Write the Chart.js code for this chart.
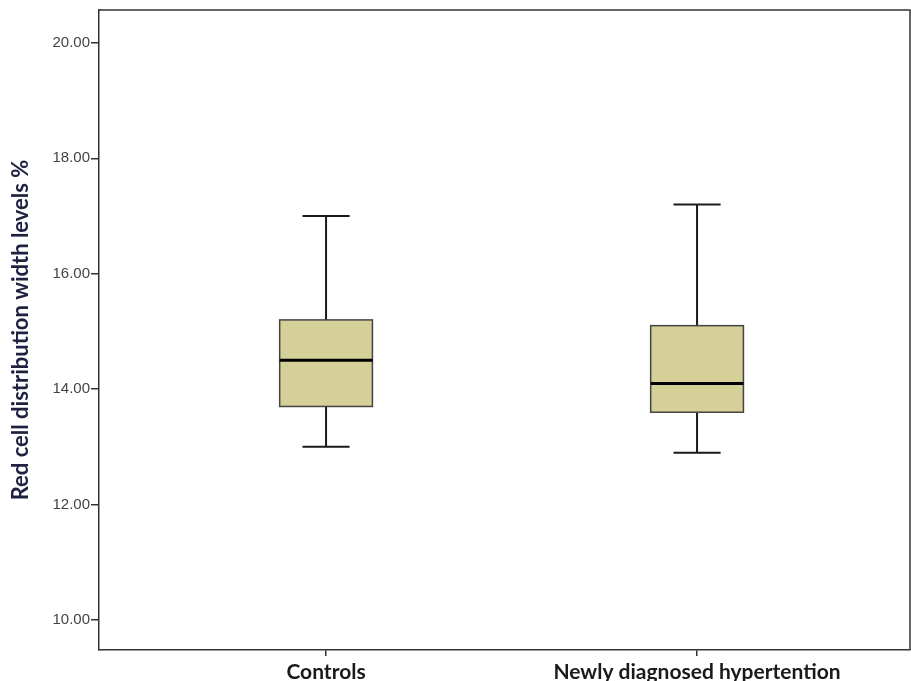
<!DOCTYPE html>
<html>
<head>
<meta charset="utf-8">
<script src="https://cdn.jsdelivr.net/npm/chart.js@4.4.1/dist/chart.umd.min.js"></script>
<style>
  html, body { margin: 0; padding: 0; background: #fff; }
  #wrap { width: 911px; height: 681px; }
</style>
</head>
<body>
<div id="wrap"><canvas id="box-chart"></canvas></div>
<script>
// Categorias e estatísticas dos boxplots
const categories = ['Controls', 'Newly diagnosed hypertention'];
const positions = [1, 2];
const whiskerLow = [13.0, 12.9];
const q1 = [13.7, 13.6];
const median = [14.5, 14.1];
const q3 = [15.2, 15.1];
const whiskerHigh = [17.0, 17.2];
const yTicks = [10, 12, 14, 16, 18, 20];

const boxWidth = 0.25;
const capWidth = 0.127;

// Plugin para desenhar as caixas usando as escalas do Chart.js
const boxPlotPlugin = {
  id: 'boxPlot',
  afterDatasetsDraw(chart) {
    const ctx = chart.ctx;
    const x = chart.scales.x;
    const y = chart.scales.y;
    ctx.save();
    positions.forEach((pos, i) => {
      const xc = x.getPixelForValue(pos);
      const xl = x.getPixelForValue(pos - boxWidth / 2);
      const xr = x.getPixelForValue(pos + boxWidth / 2);
      const cl = x.getPixelForValue(pos - capWidth / 2);
      const cr = x.getPixelForValue(pos + capWidth / 2);
      const yLo = y.getPixelForValue(whiskerLow[i]);
      const yQ1 = y.getPixelForValue(q1[i]);
      const yMed = y.getPixelForValue(median[i]);
      const yQ3 = y.getPixelForValue(q3[i]);
      const yHi = y.getPixelForValue(whiskerHigh[i]);

      // bigodes
      ctx.strokeStyle = '#1a1a1a';
      ctx.lineWidth = 2;
      ctx.beginPath();
      ctx.moveTo(xc, yHi); ctx.lineTo(xc, yQ3);
      ctx.moveTo(xc, yQ1); ctx.lineTo(xc, yLo);
      ctx.moveTo(cl, yHi); ctx.lineTo(cr, yHi);
      ctx.moveTo(cl, yLo); ctx.lineTo(cr, yLo);
      ctx.stroke();

      // caixa
      ctx.fillStyle = '#d4d097';
      ctx.fillRect(xl, yQ3, xr - xl, yQ1 - yQ3);
      ctx.strokeStyle = '#444';
      ctx.lineWidth = 1.5;
      ctx.strokeRect(xl, yQ3, xr - xl, yQ1 - yQ3);

      // mediana
      ctx.strokeStyle = '#000';
      ctx.lineWidth = 3;
      ctx.beginPath();
      ctx.moveTo(xl, yMed); ctx.lineTo(xr, yMed);
      ctx.stroke();
    });

    // moldura superior e direita
    const area = chart.chartArea;
    ctx.strokeStyle = '#333';
    ctx.lineWidth = 1.5;
    ctx.beginPath();
    ctx.moveTo(area.left, area.top);
    ctx.lineTo(area.right, area.top);
    ctx.lineTo(area.right, area.bottom);
    ctx.stroke();
    ctx.restore();
  }
};

const ctx = document.getElementById('box-chart').getContext('2d');
new Chart(ctx, {
  type: 'scatter',
  data: {
    datasets: [{
      data: positions.map((p, i) => ({ x: p, y: median[i] })),
      pointRadius: 0,
      showLine: false
    }]
  },
  options: {
    responsive: true,
    maintainAspectRatio: false,
    animation: false,
    layout: { padding: { top: 10, right: 1, left: 0, bottom: 0 } },
    plugins: {
      legend: { display: false },
      tooltip: { enabled: false }
    },
    scales: {
      x: {
        type: 'linear',
        min: 0.388,
        max: 2.574,
        afterBuildTicks(scale) {
          scale.ticks = positions.map(v => ({ value: v }));
        },
        afterFit(scale) { scale.height = 31; },
        grid: { display: true, drawOnChartArea: false, drawTicks: true, tickLength: 6, color: '#333', lineWidth: 1.5 },
        border: { display: true, color: '#333', width: 1.5 },
        ticks: {
          autoSkip: false,
          maxRotation: 0,
          padding: 4,
          color: '#1a1a1a',
          font: { family: 'Lato', size: 21, weight: 'bold' },
          callback: function(value) {
            const idx = positions.indexOf(value);
            return idx >= 0 ? categories[idx] : '';
          }
        }
      },
      y: {
        min: 9.48,
        max: 20.57,
        afterBuildTicks(scale) {
          scale.ticks = yTicks.map(v => ({ value: v }));
        },
        afterFit(scale) { scale.width = 99; },
        grid: { display: true, drawOnChartArea: false, drawTicks: true, tickLength: 8, color: '#333', lineWidth: 1.5 },
        border: { display: true, color: '#333', width: 1.5 },
        title: {
          display: true,
          text: 'Red cell distribution width levels %',
          color: '#1f2140',
          font: { family: 'Lato', size: 22, weight: 'bold' },
          padding: { top: 8, bottom: 0 }
        },
        ticks: {
          padding: 1,
          color: '#444',
          font: { family: 'Liberation Sans', size: 15 },
          callback: function(value) {
            return Number(value).toFixed(2);
          }
        }
      }
    }
  },
  plugins: [boxPlotPlugin]
});
</script>
</body>
</html>
